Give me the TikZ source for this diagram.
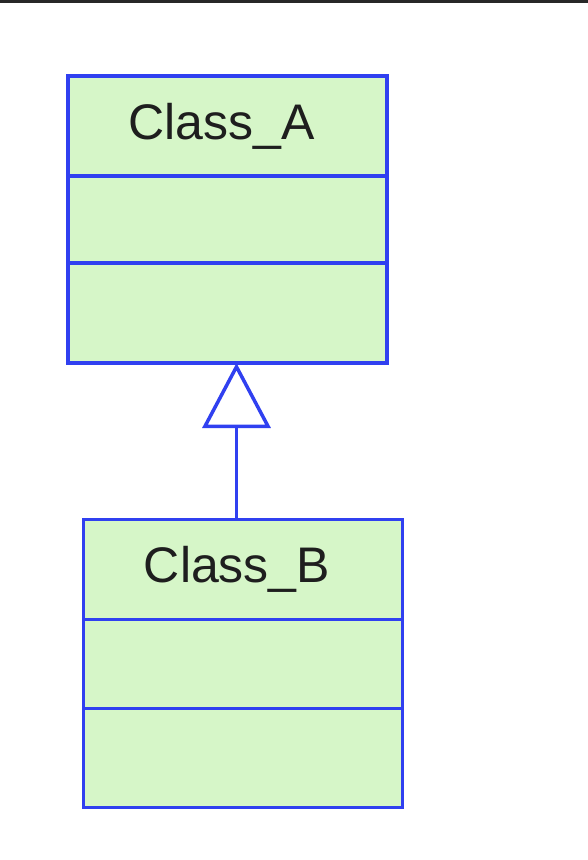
\documentclass[tikz,border=0pt]{standalone}
\usepackage{fontspec}
\setsansfont{Liberation Sans}
\usetikzlibrary{arrows.meta,positioning}

\definecolor{umlblue}{RGB}{48,64,240}
\definecolor{umlgreen}{RGB}{214,246,200}
\definecolor{umltext}{RGB}{30,30,30}
\definecolor{topbar}{RGB}{40,40,40}

\begin{document}
\begin{tikzpicture}[x=1pt,y=-1pt,
    compartment/.style={draw=umlblue,fill=umlgreen,line width=3.5pt,minimum width=319pt,inner sep=0pt,outer sep=0pt},
    titlebox/.style={compartment,minimum height=100pt,text=umltext,font=\sffamily\fontsize{50}{60}\selectfont},
    generalization/.style={draw=umlblue,line width=3.5pt,-{Triangle[open,length=65pt,width=68pt]}}]

    % Frame of the picture
    \useasboundingbox (0,0) rectangle (588,860);
    \fill [topbar] (0,0) rectangle (588,2.5);

    % Class_A (name, attributes, operations)
    \node [titlebox] (atitle) at (227.5,126) {Class\_A\hspace*{12pt}};
    \node [compartment,minimum height=87pt,below=0pt of atitle] (aattr) {};
    \node [compartment,minimum height=100pt,below=0pt of aattr] (aops) {};

    % Class_B (name, attributes, operations)
    \node [titlebox] (btitle) at (243,569.5) {Class\_B\hspace*{12pt}};
    \node [compartment,minimum height=89pt,below=0pt of btitle] (battr) {};
    \node [compartment,minimum height=99pt,below=0pt of battr] (bops) {};

    % Class_B inherits from Class_A
    \coordinate (gen) at (236.5,0);
    \draw [generalization] (gen |- btitle.north) -- (gen |- aops.south);

\end{tikzpicture}
\end{document}
